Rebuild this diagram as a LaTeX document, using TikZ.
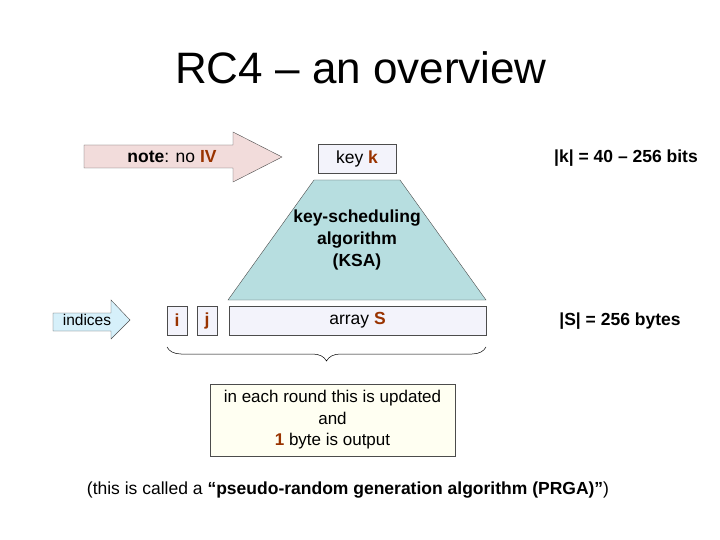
\documentclass[tikz,border=0pt]{standalone}
\usepackage{fontspec}
\setmainfont{Liberation Sans}
\usetikzlibrary{decorations.pathreplacing}
\definecolor{brn}{HTML}{993300}
\definecolor{pinkf}{HTML}{F2DCDB}
\definecolor{lav}{HTML}{F3F3FB}
\definecolor{teal1}{HTML}{B7DEE0}
\definecolor{ltblue}{HTML}{D6F0FA}
\definecolor{cream}{HTML}{FFFFF2}
\begin{document}
\begin{tikzpicture}[x=1pt,y=-1pt,
  box/.style={draw=black!70,line width=0.5pt,fill=lav,inner sep=0pt,font=\fontsize{17.5}{20}\selectfont},
  lbl/.style={font=\fontsize{17.5}{20}\selectfont\bfseries,align=center,inner sep=0pt}]
\useasboundingbox (0,0) rectangle (720,540);
\node[font=\fontsize{44}{50}\selectfont] (title) at (361,68) {RC4 – an overview};
% note arrow
\draw[draw=black!70,fill=pinkf] (84,145) -- (233,145) -- (233,132) -- (282,157) -- (233,182) -- (233,168) -- (84,168) -- cycle;
\node[inner sep=0pt,font=\fontsize{17.5}{20}\selectfont] (note) at (172,157) {\textbf{note}: no \textcolor{brn}{\textbf{IV}}};
% key k
\node[box,minimum width=78pt,minimum height=29pt] (key) at (357,158.5) {key \textcolor{brn}{\textbf{k}}};
\node[lbl] (klen) at (626,158) {|k| = 40 – 256 bits};
% trapezoid
\draw[draw=black!70,fill=teal1] (314,180) -- (400,180) -- (486,300) -- (228,300) -- cycle;
\node[lbl,font=\fontsize{17.5}{22}\selectfont\bfseries] (ksa) at (357,240) {key-scheduling\\algorithm\\(KSA)};
% indices
\draw[draw=black!70,fill=ltblue] (53,313) -- (111,313) -- (111,300) -- (130,320) -- (111,339) -- (111,331) -- (53,331) -- cycle;
\node[font=\fontsize{15.5}{18}\selectfont,inner sep=0pt] (ind) at (87,320) {indices};
\node[box,minimum width=20pt,minimum height=29pt] (i) at (177,320.5) {\textcolor{brn}{\textbf{i}}};
\node[box,minimum width=20pt,minimum height=29pt] (j) at (207,320.5) {\textcolor{brn}{\textbf{j}}};
\node[box,minimum width=257pt,minimum height=29pt] (S) at (357.5,320.5) {array \textcolor{brn}{\textbf{S}}};
\node[lbl] (slen) at (620,321) {|S| = 256 bytes};
% brace
\coordinate (b1) at (167,347);
\coordinate (b2) at (486,347);
\draw[decorate,decoration={brace,mirror,amplitude=14pt},line width=0.5pt] (b1) -- (b2);
\node[draw=black!70,fill=cream,minimum width=245pt,minimum height=72pt,align=center,font=\fontsize{17}{21.5}\selectfont,inner sep=0pt] (out) at (332.5,420) {in each round this is updated\\and\\\textcolor{brn}{\textbf{1}} byte is output};
\node[font=\fontsize{17.5}{20}\selectfont,inner sep=0pt] (prga) at (348,490) {(this is called a \textbf{“pseudo-random generation algorithm (PRGA)”})};
\end{tikzpicture}
\end{document}
